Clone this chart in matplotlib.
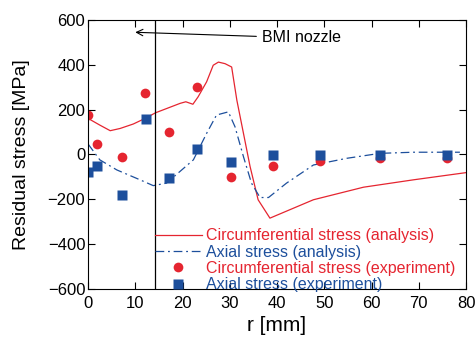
import matplotlib.pyplot as plt

plt.rcParams['font.family'] = ['Liberation Sans', 'DejaVu Sans']

RED = '#e52530'
BLUE = '#1d4f9c'

# circumferential stress, analysis
circ_x = [0, 2.5, 4.7, 6.8, 9.6, 12.1, 14.3, 19.5, 20.7, 22.2, 23.3, 25.1, 26.5,
          27.6, 29.0, 30.4, 31.5, 34.3, 36.0, 38.5, 47.7, 58.3, 68.9, 80]
circ_y = [161, 131, 106, 116, 136, 161, 186, 228, 235, 224, 257, 324, 398,
          412, 405, 390, 242, -54, -202, -284, -202, -146, -113, -81]

# axial stress, analysis
axial_x = [0, 2.5, 6.1, 11.0, 13.8, 16.6, 22.3, 25.1, 27.2, 29.7, 31.1, 32.9,
           34.6, 36.4, 38.2, 42.0, 47.7, 54.8, 61.8, 68.9, 78.7]
axial_y = [47, -24, -69, -113, -139, -128, -24, 94, 176, 190, 124, -10,
           -128, -192, -192, -128, -47, -17, 5, 10, 10]

# experiment
exp_circ_x = [0, 1.8, 7.1, 12.1, 17.2, 23.1, 30.2, 39.2, 49.1, 61.8, 75.9]
exp_circ_y = [176, 47, -12, 272, 99, 299, -101, -51, -29, -17, -17]
exp_axial_x = [0, 2.0, 7.1, 12.2, 17.2, 23.1, 30.2, 39.2, 49.2, 61.8, 75.9]
exp_axial_y = [-76, -51, -181, 158, -103, 26, -32, -2, -2, -2, -2]

fig = plt.figure(figsize=(4.77, 3.38), dpi=100)
ax = fig.add_axes([0.1845, 0.145, 0.7925, 0.796])

ax.plot(circ_x, circ_y, color=RED, lw=0.9, label='Circumferential stress (analysis)')
ax.plot(axial_x, axial_y, color=BLUE, lw=0.9, dashes=[7, 3, 1.5, 3],
        label='Axial stress (analysis)')
ax.plot(exp_circ_x, exp_circ_y, 'o', color=RED, ms=7, mec='none',
        label='Circumferential stress (experiment)')
ax.plot(exp_axial_x, exp_axial_y, 's', color=BLUE, ms=7, mec='none',
        label='Axial stress (experiment)')

# BMI nozzle
ax.axvline(14.2, color='black', lw=0.9)
ax.annotate('BMI nozzle', xy=(10, 545), xytext=(36.8, 520), fontsize=11.5,
            va='center', arrowprops=dict(arrowstyle='->', color='black', lw=0.8,
                                         shrinkA=2, shrinkB=0))

ax.set_xlim(0, 80)
ax.set_ylim(-600, 600)
ax.set_xticks(range(0, 81, 10))
ax.set_yticks(range(-600, 601, 200))
ax.tick_params(direction='in', top=True, right=True, labelsize=12, length=5)
ax.tick_params(axis='y', pad=2)
ax.tick_params(axis='x', pad=5)
ax.set_xlabel('r [mm]', fontsize=15)
ax.set_ylabel('Residual stress [MPa]', fontsize=14)
ax.yaxis.set_label_coords(-0.153, 0.5)

leg = ax.legend(loc='lower left', bbox_to_anchor=(0.14, -0.065), frameon=False,
                fontsize=11.5, handlelength=2.9, labelspacing=0.08,
                handletextpad=0.3)
for t, c in zip(leg.get_texts(), [RED, BLUE, RED, BLUE]):
    t.set_color(c)

fig.savefig('out.png', dpi=100)
